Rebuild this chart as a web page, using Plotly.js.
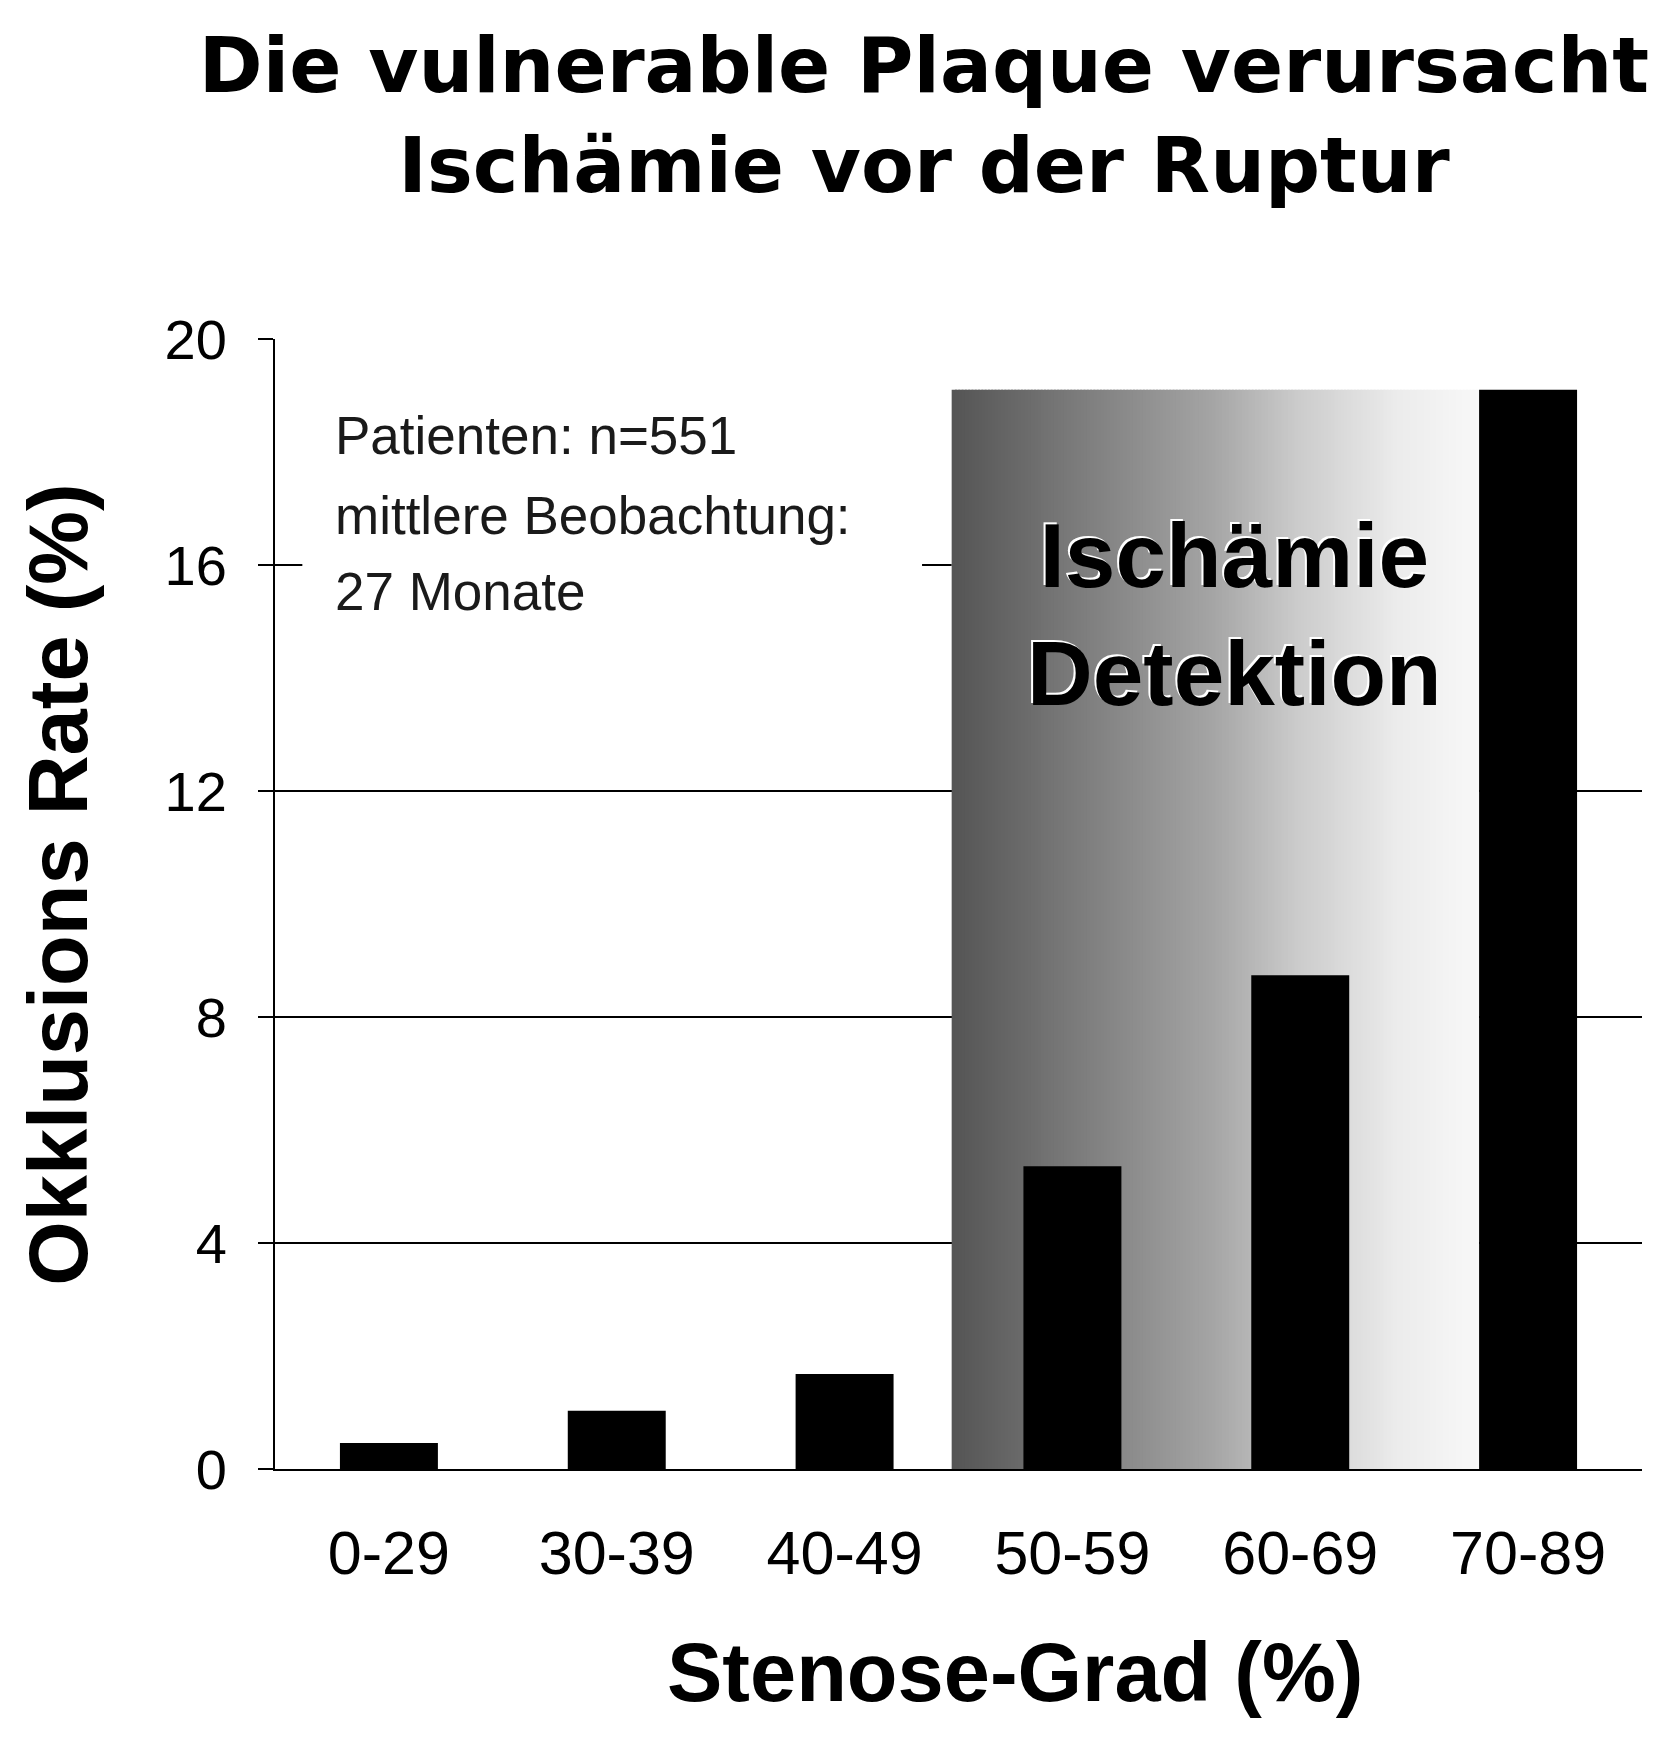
<!DOCTYPE html>
<html>
<head>
<meta charset="utf-8">
<script src="https://cdn.plot.ly/plotly-3.0.1.min.js"></script>
<style>
  html, body { margin: 0; padding: 0; background: #fff; }
  #chart { width: 1676px; height: 1763px; }
</style>
</head>
<body>
<div id="chart"></div>
<script>
// Stenose-Grad Kategorien und Okklusionsrate (%)
const categories = ['0-29', '30-39', '40-49', '50-59', '60-69', '70-89'];
const occlusionRate = [0.46, 1.03, 1.68, 5.36, 8.74, 19.1];
const yTicks = [0, 4, 8, 12, 16, 20];
const gridFull = [4, 8, 12];   // durchgehende Gitterlinien
const gridPartial = [16];      // nur bis zur Verlaufsfläche
const infoLines = ['Patienten: n=551', 'mittlere Beobachtung:', '27 Monate'];
const ischemiaLabel = 'Ischämie<br>Detektion';
const ischemiaFirstIdx = 3;   // ab 50-59
const ischemiaLastIdx = 4;    // bis 60-69

const FONT = 'Liberation Sans, Arial, Helvetica, sans-serif';
const TITLE_FONT = 'DejaVu Sans, Liberation Sans, Arial, sans-serif';
const BARGAP = 0.57;

// Grauverlauf: Stützstellen (Position 0..1, Grauwert)
const gradStops = [[0, 85], [0.5, 166], [0.65, 202], [0.85, 236], [1, 248]];

function grayAt(t) {
    for (let i = 1; i < gradStops.length; i++) {
        const [p1, g1] = gradStops[i];
        const [p0, g0] = gradStops[i - 1];
        if (t <= p1) {
            const g = Math.round(g0 + (g1 - g0) * (t - p0) / (p1 - p0));
            return `rgb(${g},${g},${g})`;
        }
    }
    return 'rgb(248,248,248)';
}

const gx0 = ischemiaFirstIdx - 0.53;
const gx1 = ischemiaLastIdx + 1 - (1 - BARGAP) / 2;
const gTop = Math.max(...occlusionRate);

const shapes = [];

// Gitterlinien
gridFull.forEach(v => {
    shapes.push({
        type: 'line', xref: 'paper', yref: 'y',
        x0: 0, x1: 1, y0: v, y1: v,
        line: { color: '#000', width: 2 }, layer: 'below'
    });
});
gridPartial.forEach(v => {
    shapes.push({
        type: 'line', xref: 'x', yref: 'y',
        x0: -0.5, x1: gx0, y0: v, y1: v,
        line: { color: '#000', width: 2 }, layer: 'below'
    });
});

// Verlaufsfläche "Ischämie Detektion" (aus Streifen)
const nStrips = 160;
for (let i = 0; i < nStrips; i++) {
    const a = gx0 + (gx1 - gx0) * i / nStrips;
    const b = gx0 + (gx1 - gx0) * (i + 1.6) / nStrips;
    shapes.push({
        type: 'rect', xref: 'x', yref: 'y',
        x0: a, x1: Math.min(b, gx1), y0: 0, y1: gTop,
        fillcolor: grayAt(i / (nStrips - 1)),
        line: { width: 0 }, layer: 'below'
    });
}

// weißer Hintergrund des Textfelds (verdeckt Gitterlinie)
shapes.push({
    type: 'rect', xref: 'x', yref: 'y',
    x0: -0.38, x1: 2.34, y0: 15.2, y1: 18.9,
    fillcolor: '#fff', line: { width: 0 }, layer: 'below'
});

const annotations = [];

const infoY = [18.3, 16.88, 15.53];
infoLines.forEach((t, i) => {
    annotations.push({
        xref: 'x', yref: 'y', x: -0.245, y: infoY[i],
        xanchor: 'left', yanchor: 'middle', showarrow: false,
        text: t, font: { family: FONT, size: 53, color: '#1a1a1a' }
    });
});

annotations.push({
    xref: 'x', yref: 'y', x: 3.71, y: 15.13,
    xanchor: 'center', yanchor: 'middle', showarrow: false,
    text: ischemiaLabel,
    font: { family: FONT, size: 91, color: '#000', weight: 700, shadow: '-2px -2px 0 #fff' }
});

// Achsentitel
annotations.push({
    xref: 'paper', yref: 'paper', x: -0.158, y: 0.517,
    xanchor: 'center', yanchor: 'middle', showarrow: false, textangle: -90,
    text: 'Okklusions Rate (%)',
    font: { family: FONT, size: 83, color: '#000', weight: 700 }
});
annotations.push({
    xref: 'paper', yref: 'paper', x: 0.541, y: -0.18,
    xanchor: 'center', yanchor: 'middle', showarrow: false,
    text: 'Stenose-Grad (%)',
    font: { family: FONT, size: 83, color: '#000', weight: 700 }
});

const trace = {
    type: 'bar',
    x: categories,
    y: occlusionRate,
    marker: { color: '#000', line: { width: 0 } },
    hoverinfo: 'x+y'
};

const layout = {
    width: 1676,
    height: 1763,
    paper_bgcolor: '#fff',
    plot_bgcolor: 'rgba(0,0,0,0)',
    margin: { l: 275, r: 34, t: 339, b: 294 },
    showlegend: false,
    bargap: BARGAP,
    title: {
        text: 'Die vulnerable Plaque verursacht<br>Ischämie vor der Ruptur',
        font: { family: TITLE_FONT, size: 77, color: '#000', weight: 700 },
        xref: 'container', yref: 'container',
        x: 0.5513, xanchor: 'center',
        y: 0.948, yanchor: 'top'
    },
    xaxis: {
        type: 'category',
        range: [-0.5, 5.5],
        showline: true, linecolor: '#000', linewidth: 2,
        ticks: '', showgrid: false, zeroline: false,
        tickfont: { family: FONT, size: 61, color: '#000' },
        ticklabelstandoff: 30
    },
    yaxis: {
        range: [0, 20],
        tickvals: yTicks,
        ticks: 'outside', ticklen: 15, tickwidth: 2, tickcolor: '#000',
        showline: true, linecolor: '#000', linewidth: 2,
        showgrid: false, zeroline: false,
        tickfont: { family: FONT, size: 56, color: '#000' },
        ticklabelstandoff: 20
    },
    shapes: shapes,
    annotations: annotations
};

Plotly.newPlot('chart', [trace], layout, { displayModeBar: false, staticPlot: true });
</script>
</body>
</html>
